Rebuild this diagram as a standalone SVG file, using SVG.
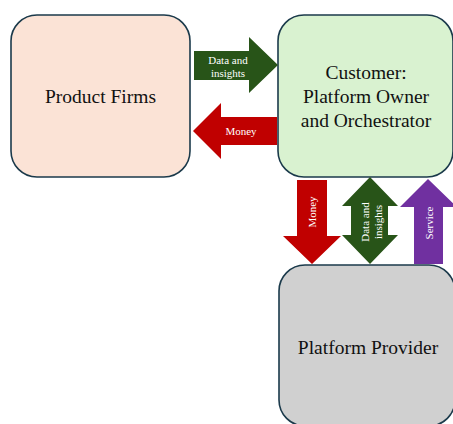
<svg xmlns="http://www.w3.org/2000/svg" width="453" height="424" viewBox="0 0 453 424">
<style>
.box{stroke:#1B3A4B;stroke-width:1.6}
.lbl{font-family:'Liberation Serif','Times New Roman',serif;font-size:19.5px;fill:#111;text-anchor:middle}
.al{font-family:'Liberation Serif','Times New Roman',serif;font-size:11px;fill:#fff;text-anchor:middle}
.g{fill:#285418}.r{fill:#C00000}.p{fill:#7030A0}
</style>
<rect width="453" height="424" fill="#fff"/>
<g id="product-firms">
<rect class="box" x="11" y="15" width="179" height="162" rx="26" fill="#FBE3D6"/>
<text class="lbl" x="100.5" y="103">Product Firms</text>
</g>
<g id="customer">
<rect class="box" x="278" y="15" width="175" height="162" rx="26" fill="#D9F2D0"/>
<text class="lbl" x="366" y="79">Customer:</text>
<text class="lbl" x="366" y="103">Platform Owner</text>
<text class="lbl" x="366" y="127">and Orchestrator</text>
</g>
<g id="platform-provider">
<rect class="box" x="279" y="265" width="176" height="161" rx="26" fill="#D0D0D0"/>
<text class="lbl" x="368" y="354">Platform Provider</text>
</g>
<g id="connectors">
<g id="data-pf-to-customer">
<polygon class="g" points="194,51 249,51 249,37 278,65 249,93 249,80 194,80"/>
<text class="al"><tspan x="228" y="63.5">Data and</tspan><tspan x="228" y="77">insights</tspan></text>
</g>
<g id="money-customer-to-pf">
<polygon class="r" points="277,117 221,117 221,103 193,131 221,159 221,145 277,145"/>
<text class="al" x="241" y="135">Money</text>
</g>
<g id="money-customer-to-provider">
<polygon class="r" points="297,180 327,180 327,236 341,236 312,264 283,236 297,236"/>
<text class="al" transform="translate(315.5,212) rotate(-90)" x="0" y="0">Money</text>
</g>
<g id="data-customer-provider">
<polygon class="g" points="370,177 398,206 388,206 388,235 398,235 370,264 342,235 351,235 351,206 342,206"/>
<text class="al" transform="translate(370,222) rotate(-90)"><tspan x="0" y="-1">Data and</tspan><tspan x="0" y="12">insights</tspan></text>
</g>
<g id="service-provider-to-customer">
<polygon class="p" points="414,264 443,264 443,207 457,207 428,179 400,207 414,207"/>
<text class="al" transform="translate(432.5,223) rotate(-90)" x="0" y="0">Service</text>
</g>
</g>
</svg>
